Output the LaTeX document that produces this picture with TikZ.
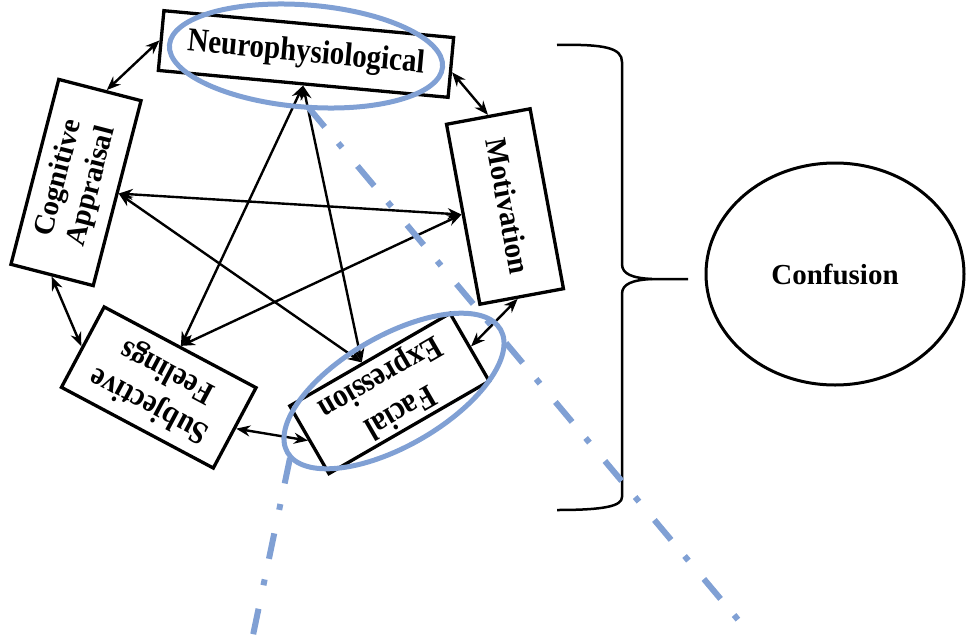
\documentclass[tikz,border=0pt]{standalone}
\usepackage{fontspec}
\usepackage{graphicx}
\setmainfont{Liberation Serif}
\usetikzlibrary{calc,arrows.meta,shapes.geometric}
\definecolor{hlblue}{RGB}{128,160,212}
\newcommand{\vstretch}[2]{\scalebox{1}[#1]{\begin{tabular}{@{}c@{}}#2\end{tabular}}}
\tikzset{
  box/.style={draw, line width=3.3pt, inner sep=0pt, align=center, font=\fontsize{29}{34}\selectfont\bfseries},
  conn/.style={line width=2.4pt, {Stealth[length=14pt,width=11pt]}-{Stealth[length=14pt,width=11pt]}},
  hl/.style={draw=hlblue, line width=5pt},
  hldash/.style={draw=hlblue, line width=6pt, dash pattern=on 26pt off 21pt on 6pt off 24pt},
  bracestyle/.style={line width=2.5pt, line join=round}
}
\begin{document}
\begin{tikzpicture}[x=1pt,y=-1pt]
\useasboundingbox (0,0) rectangle (966,637);
% boxes
\node[box, minimum width=291pt, minimum height=60pt, rotate=-5.3] (neuro) at (306,54) {\vstretch{1.15}{Neurophysiological}};
\node[box, minimum width=191pt, minimum height=85pt, rotate=75.5] (cog) at (76,182.5) {\vstretch{1.0}{Cognitive\\Appraisal}};
\node[box, minimum width=183pt, minimum height=85pt, rotate=-79.5] (mot) at (505,206.5) {\vstretch{1.05}{Motivation}};
\node[box, minimum width=172pt, minimum height=91pt, rotate=152] (subj) at (158.75,387.5) {\vstretch{1.12}{Subjective\\Feelings}};
\node[box, minimum width=185pt, minimum height=75pt, rotate=210] (fac) at (389.5,393.5) {\vstretch{1.15}{Facial\\Expression}};
% confusion
\node[draw, ellipse, line width=3pt, minimum width=258pt, minimum height=222pt, inner sep=0pt, font=\fontsize{29}{34}\selectfont\bfseries] (conf) at (835,274) {Confusion};
% outer ring arrows
\draw[conn] (neuro.west) -- ($(cog.east)!0.15!(cog.south east)$);
\draw[conn] ($(neuro.east)!0.15!(neuro.south east)$) -- (mot.west);
\draw[conn] ($(mot.east)!0.1!(mot.south east)$) -- (fac.west);
\draw[conn] (fac.east) -- (subj.west);
\draw[conn] (subj.east) -- (cog.west);
% star arrows
\draw[conn] (neuro.south) -- (subj.south);
\draw[conn] (neuro.south) -- ($(fac.south)!0.09!(fac.south east)$);
\draw[conn] (cog.south) -- (mot.south);
\draw[conn] (cog.south) -- ($(fac.south)!0.09!(fac.south east)$);
\draw[conn] (mot.south) -- (subj.south);
% brace
\draw[bracestyle] (557,45) .. controls (605,44) and (622,48) .. (622,62) -- (622,264)
  .. controls (622,274) and (632,278) .. (652,279) -- (688,279);
\draw[bracestyle] (652,279) .. controls (632,280) and (622,284) .. (622,294) -- (622,497)
  .. controls (622,506) and (605,510) .. (557,510);
% highlight ellipses
\draw[hl, rotate around={-4.6:(306,56)}] (306,56) ellipse [x radius=137pt, y radius=51pt];
\draw[hl, rotate around={30:(394,391)}] (394,391) ellipse [x radius=123pt, y radius=55pt];
% dash-dot lines
\coordinate (hlA1) at (308,107);
\coordinate (hlA2) at (750,634);
\coordinate (hlB1) at (290,458);
\coordinate (hlB2) at (252,640);
\draw[hldash] (hlA1) -- (hlA2);
\draw[hldash] (hlB1) -- (hlB2);
\end{tikzpicture}
\end{document}
